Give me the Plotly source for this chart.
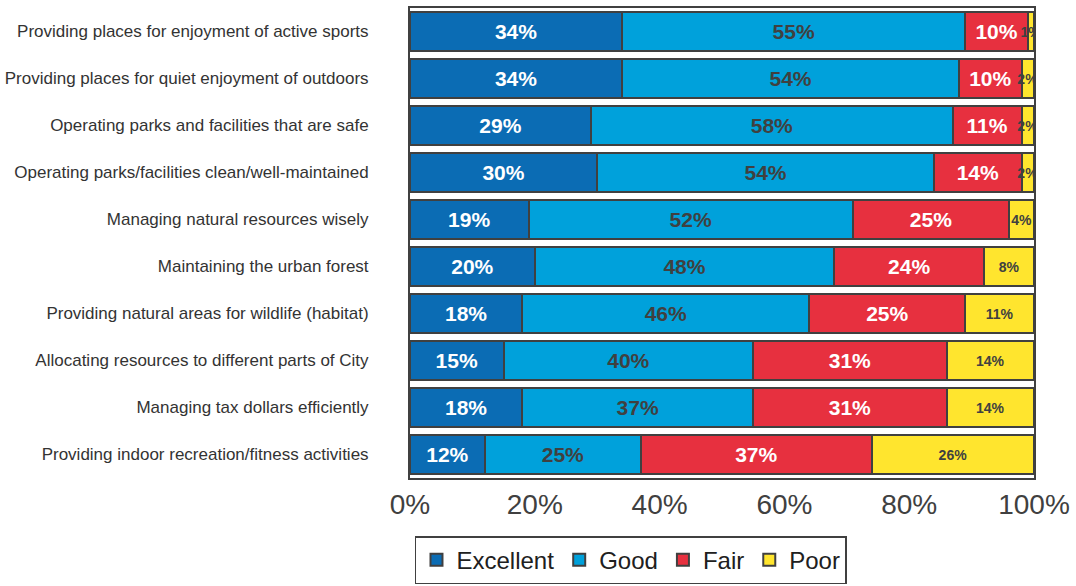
import plotly.graph_objects as go

categories = [
    "Providing places for enjoyment of active sports",
    "Providing places for quiet enjoyment of outdoors",
    "Operating parks and facilities that are safe",
    "Operating parks/facilities clean/well-maintained",
    "Managing natural resources wisely",
    "Maintaining the urban forest",
    "Providing natural areas for wildlife (habitat)",
    "Allocating resources to different parts of City",
    "Managing tax dollars efficiently",
    "Providing indoor recreation/fitness activities",
]

excellent = [34, 34, 29, 30, 19, 20, 18, 15, 18, 12]
good = [55, 54, 58, 54, 52, 48, 46, 40, 37, 25]
fair = [10, 10, 11, 14, 25, 24, 25, 31, 31, 37]
poor = [1, 2, 2, 2, 4, 8, 11, 14, 14, 26]

x_ticks = [0, 20, 40, 60, 80, 100]
x_labels = [f"{v}%" for v in x_ticks]

dark = "#404040"

series = [
    ("Excellent", excellent, "#0B6CB4", "white", 21),
    ("Good", good, "#00A1DB", dark, 21),
    ("Fair", fair, "#E7303F", "white", 21),
    ("Poor", poor, "#FFE52E", dark, 14),
]

fig = go.Figure()

for name, vals, color, tcolor, tsize in series:
    fig.add_trace(
        go.Bar(
            name=name,
            y=categories,
            x=vals,
            orientation="h",
            marker=dict(color=color, line=dict(color=dark, width=2)),
            text=[f"{v}%" for v in vals],
            textposition="inside",
            insidetextanchor="middle",
            constraintext="none",
            textangle=0,
            textfont=dict(family="Liberation Sans, Arial", size=tsize, color=tcolor, weight="bold"),
        )
    )

fig.update_layout(
    barmode="stack",
    bargap=0.15,
    width=1076,
    height=586,
    margin=dict(l=410, r=42, t=8, b=108),
    plot_bgcolor="white",
    paper_bgcolor="white",
    font=dict(family="Liberation Sans, Arial", color=dark),
    legend=dict(
        orientation="h",
        x=0.008,
        xanchor="left",
        yref="container",
        y=0.003,
        yanchor="bottom",
        font=dict(size=24, color="#202020"),
        bordercolor=dark,
        borderwidth=1.5,
        itemwidth=30,
        traceorder="normal",
    ),
)

fig.update_xaxes(
    range=[0, 100],
    tickmode="array",
    tickvals=x_ticks,
    ticktext=x_labels,
    tickfont=dict(size=28, color=dark),
    showgrid=False,
    zeroline=False,
    showline=True,
    mirror=True,
    linecolor=dark,
    linewidth=2,
    automargin=False,
)

fig.update_yaxes(
    autorange="reversed",
    tickfont=dict(size=17, color="#333333"),
    ticklabelstandoff=36,
    showgrid=False,
    showline=True,
    mirror=True,
    linecolor=dark,
    linewidth=2,
    automargin=False,
)

fig.write_html(
    "out.html",
    config={"displayModeBar": False},
    post_script="document.body.style.margin='0';",
)
